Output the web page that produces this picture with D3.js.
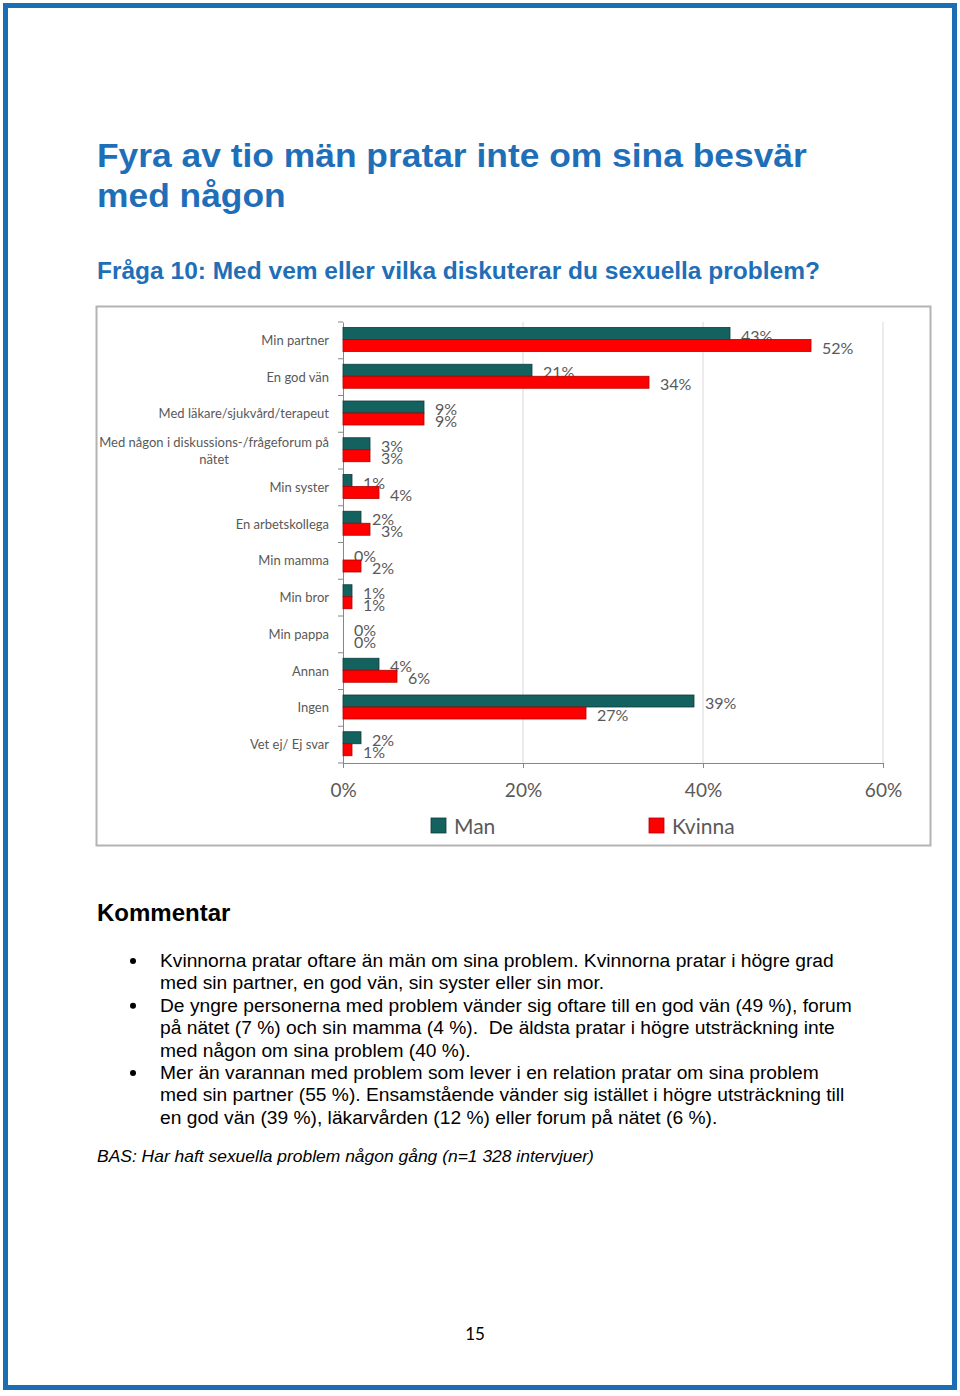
<!DOCTYPE html>
<html>
<head>
<meta charset="utf-8">
<script src="https://cdn.jsdelivr.net/npm/d3@7"></script>
<style>
  html, body { margin: 0; padding: 0; background: #fff; }
  svg { display: block; }
  text { white-space: pre; }
</style>
</head>
<body>
<svg id="page" width="960" height="1396"></svg>
<script>
// ---- data ----
const categories = [
  "Min partner", "En god vän", "Med läkare/sjukvård/terapeut",
  "Med någon i diskussions-/frågeforum på nätet", "Min syster",
  "En arbetskollega", "Min mamma", "Min bror", "Min pappa",
  "Annan", "Ingen", "Vet ej/ Ej svar"
];
const seriesNames = ["Man", "Kvinna"];
const manValues    = [43, 21, 9, 3, 1, 2, 0, 1, 0, 4, 39, 2];
const kvinnaValues = [52, 34, 9, 3, 4, 3, 2, 1, 0, 6, 27, 1];
const xTicks = [0, 20, 40, 60];

const titleLines = ["Fyra av tio män pratar inte om sina besvär", "med någon"];
const subtitle = "Fråga 10: Med vem eller vilka diskuterar du sexuella problem?";
const commentHeading = "Kommentar";
const bullets = [
  ["Kvinnorna pratar oftare än män om sina problem. Kvinnorna pratar i högre grad",
   "med sin partner, en god vän, sin syster eller sin mor."],
  ["De yngre personerna med problem vänder sig oftare till en god vän (49 %), forum",
   "på nätet (7 %) och sin mamma (4 %).  De äldsta pratar i högre utsträckning inte",
   "med någon om sina problem (40 %)."],
  ["Mer än varannan med problem som lever i en relation pratar om sina problem",
   "med sin partner (55 %). Ensamstående vänder sig istället i högre utsträckning till",
   "en god vän (39 %), läkarvården (12 %) eller forum på nätet (6 %)."]
];
const basText = "BAS: Har haft sexuella problem någon gång (n=1 328 intervjuer)";
const pageNumber = "15";

// ---- drawing ----
const svg = d3.select("#page");
const blue = "#1f6fb8";
const arial = "'Liberation Sans', Arial, sans-serif";
const cal = "Lato, 'Open Sans', sans-serif";

// horizontally widen a text to mimic the reference's wider rendering
function widen(sel, k) {
  sel.each(function () {
    const w = this.getComputedTextLength();
    d3.select(this).attr("textLength", w * k).attr("lengthAdjust", "spacingAndGlyphs");
  });
}

// page border
svg.append("rect").attr("x", 5.5).attr("y", 5.5).attr("width", 949).attr("height", 1382)
  .attr("fill", "none").attr("stroke", "#1b6db4").attr("stroke-width", 5);

// title
const tl = svg.append("g").selectAll("text").data(titleLines).join("text")
  .attr("x", 97).attr("y", (d, i) => 167 + i * 40)
  .attr("font-family", arial).attr("font-weight", "bold").attr("font-size", 33)
  .attr("fill", blue).text(d => d);
widen(tl, 1.072);

const st = svg.append("text").attr("x", 97).attr("y", 279)
  .attr("font-family", arial).attr("font-weight", "bold").attr("font-size", 23)
  .attr("fill", blue).text(subtitle);
widen(st, 1.065);

// chart frame
svg.append("rect").attr("x", 96.5).attr("y", 306.5).attr("width", 834).attr("height", 539)
  .attr("fill", "#fff").attr("stroke", "#b3b3b3").attr("stroke-width", 2);

const x = d3.scaleLinear().domain([0, 60]).range([343, 883]);
const y = d3.scaleBand().domain(categories).range([322, 763]).padding(0);
const ySub = d3.scaleBand().domain(seriesNames).range([5.5, 29.5]).padding(0);

const chart = svg.append("g");

// gridlines
chart.append("g").selectAll("line").data(xTicks.filter(t => t > 0)).join("line")
  .attr("x1", d => x(d)).attr("x2", d => x(d)).attr("y1", 322).attr("y2", 763)
  .attr("stroke", "#d9d9d9").attr("stroke-width", 1);

// x axis
const xAxis = chart.append("g").attr("transform", "translate(0,763)")
  .call(d3.axisBottom(x).tickValues(xTicks).tickFormat(d => d + "%").tickSize(5).tickPadding(16));
xAxis.select(".domain").attr("stroke", "#878787");
xAxis.selectAll(".tick line").attr("stroke", "#878787");
xAxis.selectAll("text").attr("font-family", cal).attr("font-size", 19).attr("fill", "#595959");

// y axis
const yAxis = chart.append("g").attr("transform", "translate(343,0)")
  .call(d3.axisLeft(y).tickValues([]).tickSize(0));
yAxis.select(".domain").attr("stroke", "#878787");
yAxis.append("g").selectAll("line").data(categories.concat(["__end"])).join("line")
  .attr("x1", -5).attr("x2", 0)
  .attr("y1", (d, i) => 322 + i * y.step()).attr("y2", (d, i) => 322 + i * y.step())
  .attr("stroke", "#878787");

// category labels
const labG = chart.append("g").attr("font-family", cal).attr("font-size", 13).attr("fill", "#595959");
categories.forEach((c, i) => {
  const cy = y(c) + y.bandwidth() / 2;
  if (c.length > 35) {
    const parts = ["Med någon i diskussions-/frågeforum på", "nätet"];
    const t1 = labG.append("text").attr("x", 329).attr("y", cy - 8 + 4.5).attr("text-anchor", "end").text(parts[0]);
    const w = t1.node().getComputedTextLength();
    labG.append("text").attr("x", 329 - w / 2).attr("y", cy + 9 + 4.5).attr("text-anchor", "middle").text(parts[1]);
  } else {
    labG.append("text").attr("x", 329).attr("y", cy + 4.5).attr("text-anchor", "end").text(c);
  }
});

const rows = categories.map((c, i) => ({ c, Man: manValues[i], Kvinna: kvinnaValues[i] }));
const colors = { Man: "#13625f", Kvinna: "#ff0000" };
const edges = { Man: "#0a3c3a", Kvinna: "#b00000" };

// value labels (drawn under bars)
const vl = chart.append("g").attr("font-family", cal).attr("font-size", 16).attr("fill", "#595959");
seriesNames.forEach(s => {
  vl.selectAll("text." + s).data(rows).join("text").attr("class", s)
    .attr("x", d => x(d[s]) + 11)
    .attr("y", d => y(d.c) + ySub(s) + ySub.bandwidth() / 2 + 8)
    .text(d => d[s] + "%");
});

// bars
seriesNames.forEach(s => {
  chart.append("g").selectAll("rect").data(rows.filter(d => d[s] > 0)).join("rect")
    .attr("x", x(0)).attr("y", d => y(d.c) + ySub(s))
    .attr("width", d => x(d[s]) - x(0)).attr("height", ySub.bandwidth())
    .attr("fill", colors[s]).attr("stroke", edges[s]).attr("stroke-width", 0.8);
});

// legend
const leg = svg.append("g").attr("font-family", cal).attr("font-size", 21).attr("fill", "#595959");
[{ s: "Man", x: 431 }, { s: "Kvinna", x: 649 }].forEach(d => {
  leg.append("rect").attr("x", d.x).attr("y", 818).attr("width", 15).attr("height", 15)
    .attr("fill", colors[d.s]).attr("stroke", edges[d.s]).attr("stroke-width", 0.8);
  leg.append("text").attr("x", d.x + 23).attr("y", 834).text(d.s);
});

// comment
svg.append("text").attr("x", 97).attr("y", 921)
  .attr("font-family", arial).attr("font-weight", "bold").attr("font-size", 24)
  .attr("fill", "#000").text(commentHeading);

const bg = svg.append("g").attr("font-family", arial).attr("font-size", 18).attr("fill", "#000");
let line = 0;
bullets.forEach(b => {
  bg.append("circle").attr("cx", 133).attr("cy", 961 + line * 22.4).attr("r", 3).attr("fill", "#000");
  b.forEach(t => {
    const tx = bg.append("text").attr("x", 160).attr("y", 967 + line * 22.4).text(t);
    widen(tx, 1.067);
    line++;
  });
});

const bas = svg.append("text").attr("x", 97).attr("y", 1162)
  .attr("font-family", arial).attr("font-style", "italic").attr("font-size", 16.5)
  .attr("fill", "#000").text(basText);
widen(bas, 1.057);

svg.append("text").attr("x", 475).attr("y", 1340).attr("text-anchor", "middle")
  .attr("font-family", cal).attr("font-size", 17).attr("fill", "#000").text(pageNumber);
</script>
</body>
</html>
